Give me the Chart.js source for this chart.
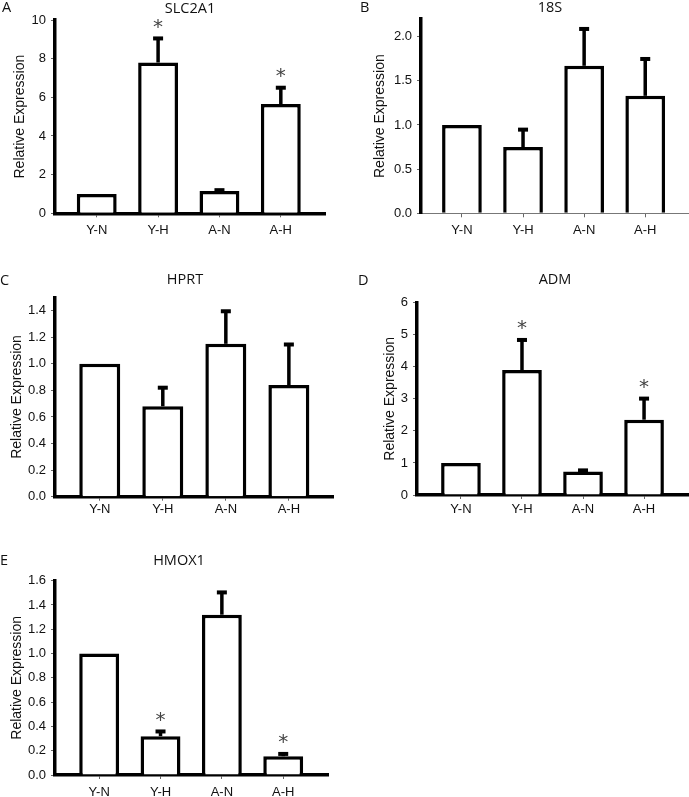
<!DOCTYPE html>
<html>
<head>
<meta charset="utf-8">
<script src="https://cdn.jsdelivr.net/npm/chart.js@4.4.0/dist/chart.umd.min.js"></script>
<style>
  body { margin: 0; background: #fff; }
  #page { position: relative; width: 689px; height: 797px; overflow: hidden; font-family: "Open Sans", sans-serif; }
  .panel { position: absolute; }
  .letter, .title { position: absolute; font-size: 14.5px; line-height: 1; color: #111; white-space: nowrap; }
  .letter { transform: translateY(-50%); }
  .title { transform: translate(-50%, -50%); }
</style>
</head>
<body>
<div id="page"></div>
<script>
// Groups on the x axis
const groups = ['Y-N', 'Y-H', 'A-N', 'A-H'];

// SLC2A1
const slc2a1Mean = [1.0, 7.8, 1.15, 5.65];
const slc2a1Err  = [0, 1.35, 0.15, 0.95];
const slc2a1Sig  = [false, true, false, true];

// 18S
const s18Mean = [1.0, 0.75, 1.67, 1.33];
const s18Err  = [0, 0.22, 0.44, 0.44];
const s18Sig  = [false, false, false, false];

// HPRT
const hprtMean = [1.0, 0.68, 1.15, 0.84];
const hprtErr  = [0, 0.155, 0.26, 0.32];
const hprtSig  = [false, false, false, false];

// ADM
const admMean = [1.0, 3.9, 0.73, 2.35];
const admErr  = [0, 1.0, 0.1, 0.72];
const admSig  = [false, true, false, true];

// HMOX1
const hmox1Mean = [1.0, 0.32, 1.32, 0.155];
const hmox1Err  = [0, 0.055, 0.2, 0.035];
const hmox1Sig  = [false, true, false, true];

// Panel layout (box = canvas [left, top, w, h], area = chart area [left, top, right, bottom])
const panels = [
    { letter: 'A', gene: 'SLC2A1', mean: slc2a1Mean, err: slc2a1Err, sig: slc2a1Sig,
      yMax: 10, yStep: 2, dec: 0,
      box: [0, 0, 345, 250], area: [55, 20, 325, 213.3], xRange: [-0.68, 3.72],
      letterAt: [2, 7], titleAt: [190, 8], yTitlePad: 11.6, xLabelPad: 5, xBorder: 3.5 },
    { letter: 'B', gene: '18S', mean: s18Mean, err: s18Err, sig: s18Sig,
      yMax: 2.2, yStep: 0.5, dec: 1,
      box: [345, 0, 344, 250], area: [421, 19, 688, 213.3], xRange: [-0.67, 3.70],
      letterAt: [360, 7], titleAt: [550, 7], yTitlePad: 26.6, xLabelPad: 5, xBorder: 1 },
    { letter: 'C', gene: 'HPRT', mean: hprtMean, err: hprtErr, sig: hprtSig,
      yMax: 1.5, yStep: 0.2, dec: 1,
      box: [0, 262, 345, 258], area: [55, 297.3, 333, 496.7], xRange: [-0.71, 3.70],
      letterAt: [0, 280], titleAt: [185, 279], yTitlePad: 8.3, xLabelPad: 1, xBorder: 3.5 },
    { letter: 'D', gene: 'ADM', mean: admMean, err: admErr, sig: admSig,
      yMax: 6, yStep: 1, dec: 0,
      box: [345, 262, 344, 258], area: [417, 302.7, 688, 495], xRange: [-0.72, 3.72],
      letterAt: [358, 280], titleAt: [555, 279], yTitlePad: 36.6, xLabelPad: 2.2, xBorder: 3.5 },
    { letter: 'E', gene: 'HMOX1', mean: hmox1Mean, err: hmox1Err, sig: hmox1Sig,
      yMax: 1.6, yStep: 0.2, dec: 1,
      box: [0, 540, 345, 257], area: [55, 580.7, 328, 775], xRange: [-0.72, 3.73],
      letterAt: [0, 560], titleAt: [179, 560], yTitlePad: 8.9, xLabelPad: 5.7, xBorder: 3.5 }
];

const tickFont = { family: '"Liberation Sans", Arial, sans-serif', size: 13 };

// error bars (upper only) and significance stars
function errorBarPlugin(p) {
    return {
        id: 'errorBars',
        afterDatasetsDraw(chart) {
            const ctx = chart.ctx;
            const yScale = chart.scales.y;
            const meta = chart.getDatasetMeta(0);
            p.mean.forEach((m, i) => {
                const bar = meta.data[i];
                const e = p.err[i];
                const top = yScale.getPixelForValue(m + e);
                ctx.save();
                if (e > 0) {
                    ctx.strokeStyle = '#000';
                    ctx.lineWidth = 3.5;
                    ctx.beginPath();
                    ctx.moveTo(bar.x, bar.y);
                    ctx.lineTo(bar.x, top + 2);
                    ctx.stroke();
                    ctx.fillStyle = '#000';
                    ctx.fillRect(bar.x - 5, top, 10, 4);
                }
                if (p.sig[i]) {
                    ctx.font = '20px "DejaVu Sans", sans-serif';
                    ctx.fillStyle = '#444';
                    ctx.textAlign = 'center';
                    ctx.textBaseline = 'alphabetic';
                    const mt = ctx.measureText('*');
                    const cy = top - 13;
                    ctx.fillText('*', bar.x, cy + (mt.actualBoundingBoxAscent - mt.actualBoundingBoxDescent) / 2);
                }
                ctx.restore();
            });
        }
    };
}

const page = document.getElementById('page');

function addText(cls, text, at) {
    const d = document.createElement('div');
    d.className = cls;
    d.textContent = text;
    d.style.left = at[0] + 'px';
    d.style.top = at[1] + 'px';
    page.appendChild(d);
}

panels.forEach(p => {
    const [bx, by, bw, bh] = p.box;
    const [al, at, ar, ab] = p.area;

    const wrap = document.createElement('div');
    wrap.className = 'panel';
    wrap.style.left = bx + 'px';
    wrap.style.top = by + 'px';
    const canvas = document.createElement('canvas');
    canvas.width = bw;
    canvas.height = bh;
    canvas.style.width = bw + 'px';
    canvas.style.height = bh + 'px';
    wrap.appendChild(canvas);
    page.appendChild(wrap);

    addText('letter', p.letter, p.letterAt);
    addText('title', p.gene, p.titleAt);

    new Chart(canvas.getContext('2d'), {
        type: 'bar',
        data: {
            datasets: [{
                data: p.mean.map((v, i) => ({ x: i, y: v })),
                backgroundColor: '#fff',
                borderColor: '#000',
                borderWidth: 3.5,
                borderSkipped: 'start',
                barPercentage: 0.65,
                categoryPercentage: 1
            }]
        },
        options: {
            responsive: false,
            animation: false,
            layout: { padding: { top: at - by, right: bx + bw - ar, left: 0, bottom: 0 } },
            plugins: { legend: { display: false }, tooltip: { enabled: false } },
            scales: {
                x: {
                    type: 'linear',
                    offset: false,
                    min: p.xRange[0],
                    max: p.xRange[1],
                    afterBuildTicks: s => { s.ticks = groups.map((g, i) => ({ value: i })); },
                    afterFit: s => { s.height = by + bh - ab; },
                    ticks: {
                        callback: v => groups[v],
                        font: tickFont,
                        color: '#111',
                        padding: p.xLabelPad,
                        autoSkip: false,
                        maxRotation: 0
                    },
                    grid: { display: true, offset: false, drawOnChartArea: false, drawTicks: true, tickLength: 4, color: '#666', lineWidth: 1 },
                    border: { display: true, color: p.xBorder > 2 ? '#000' : '#777', width: p.xBorder }
                },
                y: {
                    min: 0,
                    max: p.yMax,
                    afterFit: s => { s.width = al - bx; },
                    ticks: {
                        stepSize: p.yStep,
                        includeBounds: false,
                        callback: v => v.toFixed(p.dec),
                        font: tickFont,
                        color: '#111',
                        padding: 5
                    },
                    grid: { display: true, drawOnChartArea: false, drawTicks: true, tickLength: 4, color: '#666', lineWidth: 1 },
                    border: { display: true, color: '#000', width: 3.5 },
                    title: {
                        display: true,
                        text: 'Relative Expression',
                        font: { family: '"Liberation Sans", Arial, sans-serif', size: 14 },
                        color: '#111',
                        padding: { top: p.yTitlePad, bottom: 0 }
                    }
                }
            }
        },
        plugins: [errorBarPlugin(p)]
    });
});
</script>
</body>
</html>
